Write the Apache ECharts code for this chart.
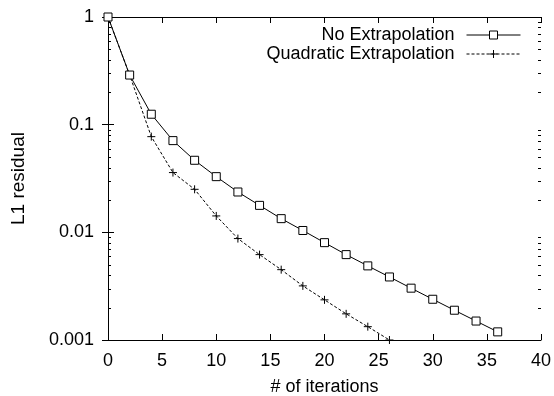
<!DOCTYPE html>
<html>
<head>
<meta charset="utf-8">
<script src="https://cdn.jsdelivr.net/npm/echarts@6/dist/echarts.min.js"></script>
<style>
  html, body { margin: 0; padding: 0; background: #fff; }
  #chart { width: 554px; height: 396px; }
</style>
</head>
<body>
<div id="chart"></div>
<script>
// Convergence history: L1 residual per iteration count
const iterNoExtrap = [0, 2, 4, 6, 8, 10, 12, 14, 16, 18, 20, 22, 24, 26, 28, 30, 32, 34, 36];
const residualNoExtrap = [1, 0.289, 0.125, 0.0711, 0.0467, 0.0329, 0.0237, 0.0178, 0.0134, 0.0104,
  0.00802, 0.00621, 0.00488, 0.00385, 0.00303, 0.00239, 0.00189, 0.00150, 0.00119];

const iterQuadratic = [0, 2, 4, 6, 8, 10, 12, 14, 16, 18, 20, 22, 24, 26];
const residualQuadratic = [1, 0.289, 0.0774, 0.0359, 0.0251, 0.0142, 0.00875, 0.00621, 0.00450,
  0.00318, 0.00236, 0.00175, 0.00133, 0.00100];

const seriesNames = ['No Extrapolation', 'Quadratic Extrapolation'];
const yTickLabels = ['0.001', '0.01', '0.1', '1'];
const xMin = 0, xMax = 40, xStep = 5;
const yMin = 0.001, yMax = 1;

// minor log ticks (2..9 in each decade)
const minorMantissas = [2, 3, 4, 5, 6, 7, 8, 9];
const minorDecades = [0.001, 0.01, 0.1];

const FONT = 'Liberation Sans, Arial, Helvetica, sans-serif';
const pairs = (xs, ys) => xs.map((x, i) => [x, ys[i]]);

const minorTickData = [];
minorDecades.forEach(d => minorMantissas.forEach(m => minorTickData.push([xMin, m * d])));

const chart = echarts.init(document.getElementById('chart'), null, { renderer: 'canvas' });

const axisLineStyle = { show: true, lineStyle: { color: '#000', width: 1 } };
const tickStyle = { show: true, inside: true, length: 6, lineStyle: { color: '#000', width: 1 } };

chart.setOption({
  animation: false,
  backgroundColor: '#fff',
  textStyle: { fontFamily: FONT, color: '#000' },
  grid: { left: 108, right: 13, top: 17, bottom: 56, containLabel: false, outerBoundsMode: 'none' },
  legend: {
    data: seriesNames,
    orient: 'vertical',
    align: 'right',
    right: 28,
    top: 21,
    itemWidth: 54,
    itemHeight: 10,
    itemGap: 1,
    lineStyle: { width: 1 },
    itemStyle: { borderWidth: 1 },
    textStyle: { fontFamily: FONT, fontSize: 18, color: '#000', lineHeight: 18, padding: [0, 7, 0, 0] }
  },
  xAxis: [
    {
      type: 'value', min: xMin, max: xMax, interval: xStep, position: 'bottom',
      name: '# of iterations', nameLocation: 'middle', nameGap: 38,
      nameTextStyle: { fontFamily: FONT, fontSize: 18, color: '#000' },
      axisLine: axisLineStyle, axisTick: tickStyle, splitLine: { show: false },
      axisLabel: { fontFamily: FONT, fontSize: 18, color: '#000', margin: 12 }
    },
    {
      type: 'value', min: xMin, max: xMax, interval: xStep, position: 'top',
      axisLine: axisLineStyle, axisTick: tickStyle, splitLine: { show: false },
      axisLabel: { show: false }
    }
  ],
  yAxis: [
    {
      type: 'log', logBase: 10, min: yMin, max: yMax, interval: 1, position: 'left',
      name: 'L1 residual', nameLocation: 'middle', nameGap: 80, nameRotate: 90,
      nameTextStyle: { fontFamily: FONT, fontSize: 19, color: '#000' },
      axisLine: axisLineStyle, axisTick: tickStyle, splitLine: { show: false },
      axisLabel: {
        fontFamily: FONT, fontSize: 18, color: '#000', margin: 14,
        formatter: v => {
          const idx = Math.round(Math.log10(v) - Math.log10(yMin));
          return yTickLabels[idx] !== undefined ? yTickLabels[idx] : '';
        }
      }
    },
    {
      type: 'log', logBase: 10, min: yMin, max: yMax, interval: 1, position: 'right',
      axisLine: axisLineStyle, axisTick: tickStyle, splitLine: { show: false },
      axisLabel: { show: false }
    }
  ],
  series: [
    {
      name: seriesNames[0],
      type: 'line',
      data: pairs(iterNoExtrap, residualNoExtrap),
      symbol: 'rect',
      symbolSize: 8,
      lineStyle: { color: '#000', width: 1, type: 'solid' },
      itemStyle: { color: '#fff', borderColor: '#000', borderWidth: 1 },
      z: 3
    },
    {
      name: seriesNames[1],
      type: 'line',
      data: pairs(iterQuadratic, residualQuadratic),
      symbol: 'path://M5,0 L5,10 M0,5 L10,5',
      symbolSize: 8,
      lineStyle: { color: '#000', width: 1, type: [3, 2] },
      itemStyle: { color: '#000', borderColor: '#000', borderWidth: 1 },
      z: 2
    },
    {
      name: 'minor-ticks',
      type: 'custom',
      silent: true,
      clip: false,
      data: minorTickData,
      renderItem: (params, api) => {
        const v = api.value(1);
        const l = api.coord([xMin, v]);
        const r = api.coord([xMax, v]);
        const y = Math.round(l[1]) + 0.5;
        return {
          type: 'group',
          children: [
            { type: 'line', shape: { x1: l[0], y1: y, x2: l[0] + 3, y2: y }, style: { stroke: '#000', lineWidth: 1 } },
            { type: 'line', shape: { x1: r[0], y1: y, x2: r[0] - 3, y2: y }, style: { stroke: '#000', lineWidth: 1 } }
          ]
        };
      }
    }
  ]
});
</script>
</body>
</html>
